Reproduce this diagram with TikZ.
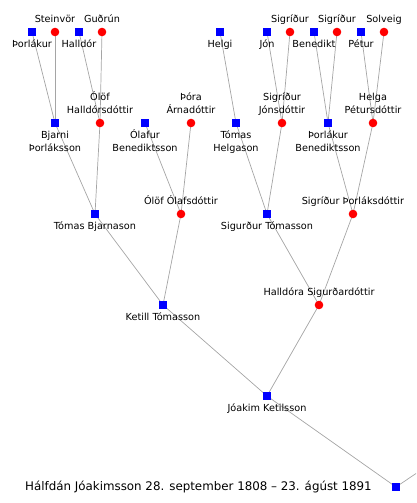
\documentclass[tikz,border=0pt]{standalone}
\usepackage{fontspec}
\setmainfont{DejaVu Sans}
\usetikzlibrary{backgrounds,calc}
\definecolor{edgegray}{RGB}{165,165,165}
\tikzset{
  x=1pt, y=-1pt,
  male/.style={rectangle, fill=blue, minimum size=8pt, inner sep=0pt, draw=none},
  female/.style={circle, fill=red, minimum size=8.6pt, inner sep=0pt, draw=none},
  lbl/.style={font=\fontsize{9.7}{13}\selectfont, inner sep=0pt, align=center, text height=7pt, anchor=north},
  kin/.style={draw=edgegray, line width=0.7pt},
}
\newcommand{\below}[3]{\node[lbl] (#1) at ($(#2)+(0,8.5)$) {#3};}
\newcommand{\belowtwo}[3]{\node[lbl] (#1) at ($(#2)+(0,21.5)$) {#3};}
\newcommand{\aboveone}[3]{\node[lbl] (#1) at ($(#2)+(0,-16.5)$) {#3};}
\begin{document}
\begin{tikzpicture}
\useasboundingbox (0,0) rectangle (416,503);
% generation 1
\node[male] (pT) at (32,32) {};
\node[female] (pS) at (55,32) {};
\node[male] (pH) at (79,32) {};
\node[female] (pG) at (102,32) {};
\node[male] (pHe) at (220,32) {};
\node[male] (pJ) at (267,32) {};
\node[female] (pSa) at (290,32) {};
\node[male] (pBe) at (314,32) {};
\node[female] (pSb) at (337,32) {};
\node[male] (pPe) at (361,32) {};
\node[female] (pSo) at (384,32) {};
\below{lpT}{pT}{Þorlákur}
\aboveone{lpS}{pS}{Steinvör}
\below{lpH}{pH}{Halldór}
\aboveone{lpG}{pG}{Guðrún}
\below{lpHe}{pHe}{Helgi}
\below{lpJ}{pJ}{Jón}
\aboveone{lpSa}{pSa}{Sigríður}
\below{lpBe}{pBe}{Benedikt}
\aboveone{lpSb}{pSb}{Sigríður}
\below{lpPe}{pPe}{Pétur}
\aboveone{lpSo}{pSo}{Solveig}
% generation 2
\node[male] (gBj) at (55,123) {};
\node[female] (gOl) at (100,123) {};
\node[male] (gOla) at (145,123) {};
\node[female] (gTh) at (191,123) {};
\node[male] (gTo) at (236,123) {};
\node[female] (gSJ) at (282,123) {};
\node[male] (gPB) at (328,123) {};
\node[female] (gHP) at (373,123) {};
\belowtwo{lgBj}{gBj}{Bjarni\\Þorláksson}
\aboveone{lgOl}{gOl}{Ólöf\\Halldórsdóttir}
\belowtwo{lgOla}{gOla}{Ólafur\\Benediktsson}
\aboveone{lgTh}{gTh}{Þóra\\Árnadóttir}
\belowtwo{lgTo}{gTo}{Tómas\\Helgason}
\aboveone{lgSJ}{gSJ}{Sigríður\\Jónsdóttir}
\belowtwo{lgPB}{gPB}{Þorlákur\\Benediktsson}
\aboveone{lgHP}{gHP}{Helga\\Pétursdóttir}
% generation 3
\node[male] (hTB) at (95,214) {};
\node[female] (hOO) at (181,214) {};
\node[male] (hST) at (267,214) {};
\node[female] (hSP) at (353,214) {};
\below{lhTB}{hTB}{Tómas Bjarnason}
\aboveone{lhOO}{hOO}{Ólöf Ólafsdóttir}
\below{lhST}{hST}{Sigurður Tómasson}
\aboveone{lhSP}{hSP}{Sigríður Þorláksdóttir}
% generation 4
\node[male] (iKT) at (163,305) {};
\node[female] (iHS) at (319,305) {};
\below{liKT}{iKT}{Ketill Tómasson}
\aboveone{liHS}{iHS}{Halldóra Sigurðardóttir}
% generation 5
\node[male] (jJK) at (267,396) {};
\below{ljJK}{jJK}{Jóakim Ketilsson}
% root
\node[male] (kH) at (396,487) {};
\node[font=\fontsize{11.85}{14}\selectfont, inner sep=0pt] (lkH) at (198.5,487) {Hálfdán Jóakimsson 28. september 1808 – 23. ágúst 1891};
\coordinate (kOut) at (416,473.5);
\begin{pgfonlayer}{background}
\draw[kin] (gBj.center) -- (pT.center);
\draw[kin] (gBj.center) -- (pS.center);
\draw[kin] (gOl.center) -- (pH.center);
\draw[kin] (gOl.center) -- (pG.center);
\draw[kin] (gTo.center) -- (pHe.center);
\draw[kin] (gSJ.center) -- (pJ.center);
\draw[kin] (gSJ.center) -- (pSa.center);
\draw[kin] (gPB.center) -- (pBe.center);
\draw[kin] (gPB.center) -- (pSb.center);
\draw[kin] (gHP.center) -- (pPe.center);
\draw[kin] (gHP.center) -- (pSo.center);
\draw[kin] (hTB.center) -- (gBj.center);
\draw[kin] (hTB.center) -- (gOl.center);
\draw[kin] (hOO.center) -- (gOla.center);
\draw[kin] (hOO.center) -- (gTh.center);
\draw[kin] (hST.center) -- (gTo.center);
\draw[kin] (hST.center) -- (gSJ.center);
\draw[kin] (hSP.center) -- (gPB.center);
\draw[kin] (hSP.center) -- (gHP.center);
\draw[kin] (iKT.center) -- (hTB.center);
\draw[kin] (iKT.center) -- (hOO.center);
\draw[kin] (iHS.center) -- (hST.center);
\draw[kin] (iHS.center) -- (hSP.center);
\draw[kin] (jJK.center) -- (iKT.center);
\draw[kin] (jJK.center) -- (iHS.center);
\draw[kin] (kH.center) -- (jJK.center);
\draw[kin] (kH.center) -- (kOut);
\end{pgfonlayer}
\end{tikzpicture}
\end{document}
